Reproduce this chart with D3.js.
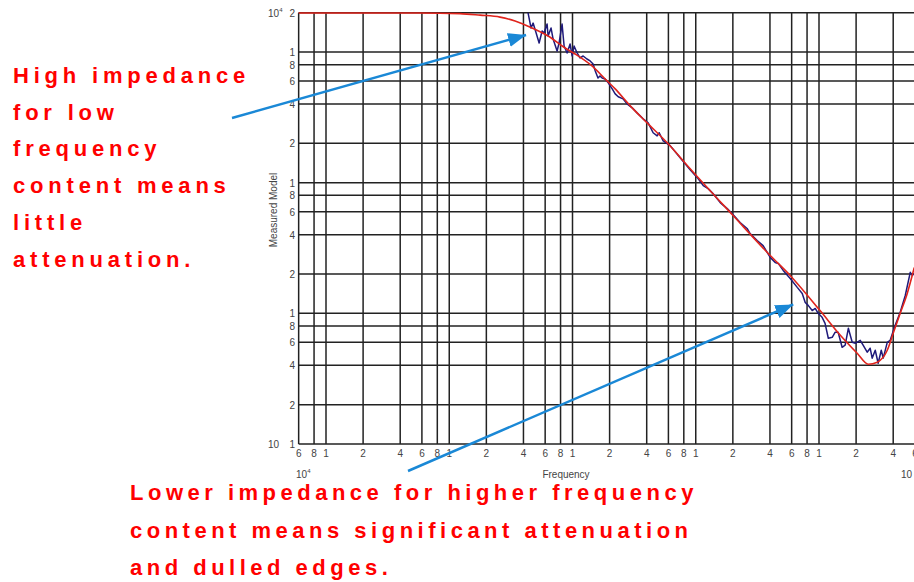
<!DOCTYPE html>
<html><head><meta charset="utf-8">
<script src="https://cdn.jsdelivr.net/npm/d3@7"></script>
<style>html,body{margin:0;padding:0;background:#fff;overflow:hidden}</style>
</head><body><svg id="c" width="914" height="582"></svg>
<script>
// ---- data ----
const tickMantissas = [1, 2, 4, 6, 8];
const xDecades = [1e3, 1e4, 1e5, 1e6, 1e7, 1e8];
const yDecades = [10, 100, 1000, 10000];
const xMin = 6e3, xMax = 6e8, yMin = 10, yMax = 2e4;

const modelFreq = [6.0e3, 5.8e4, 1.22e5, 1.78e5, 2.58e5, 3.42e5, 4.70e5, 6.34e5, 8.71e5, 1.05e6, 1.44e6, 1.84e6, 2.22e6, 2.94e6, 4.03e6, 5.97e6, 9.01e6, 2.01e7, 4.02e7, 5.83e7, 1.02e8, 1.49e8, 2.04e8, 2.51e8, 2.97e8, 3.58e8, 4.00e8, 4.56e8, 5.20e8, 5.93e8];
const modelZ = [19900, 19900, 19680, 19150, 18500, 17260, 15250, 13250, 10730, 9660, 7820, 6220, 5220, 3870, 2870, 1985, 1279, 560, 277, 195, 105, 67.9, 49.5, 40.8, 42.3, 52.2, 70.3, 100, 142, 224];

const measFreq = [4.36e5,4.61e5,4.79e5,5.07e5,5.36e5,5.67e5,5.88e5,6.22e5,6.34e5,6.70e5,6.96e5,7.50e5,7.78e5,8.23e5,8.55e5,9.04e5,9.56e5,9.93e5,1.03e6,1.09e6,1.15e6,1.22e6,1.31e6,1.39e6,1.47e6,1.53e6,1.61e6,1.67e6,1.74e6,1.84e6,1.95e6,2.10e6,2.22e6,2.35e6,2.57e6,2.77e6,3.05e6,3.34e6,3.74e6,4.11e6,4.51e6,4.86e6,5.05e6,5.44e6,6.20e6,7.47e6,9.01e6,1.03e7,1.15e7,1.26e7,1.38e7,1.58e7,1.80e7,1.97e7,2.29e7,2.61e7,2.76e7,3.15e7,3.52e7,4.02e7,4.41e7,4.67e7,5.12e7,5.84e7,6.66e7,7.31e7,7.73e7,8.17e7,8.81e7,9.32e7,9.85e7,1.06e8,1.12e8,1.19e8,1.28e8,1.35e8,1.43e8,1.54e8,1.63e8,1.73e8,1.86e8,1.97e8,2.16e8,2.28e8,2.46e8,2.60e8,2.70e8,2.86e8,3.02e8,3.20e8,3.32e8,3.58e8,3.78e8,4.15e8,4.56e8,5.01e8,5.50e8,5.71e8,5.93e8];
const measZ = [19900,15250,16650,13970,11720,14470,13970,16360,13250,15250,12570,10180,11720,16360,11110,9830,11510,9320,11110,9830,9000,9320,8840,8540,8100,7160,6330,6560,6330,6220,5800,5220,4780,4540,4380,4010,3740,3420,3080,2870,2410,2280,2410,2090,1920,1550,1257,1092,949,900,825,704,633,580,495,446,408,361,330,268,245,241,213,185,158,142,121,115,105,109,100,93.2,83.9,64.5,65.6,71.6,71.6,55.0,57.0,76.8,60.0,59.0,62.2,57.0,50.4,54.1,45.4,52.2,41.5,52.2,45.4,60.0,62.2,81.0,102,137,206,195,202];

const axisTitleX = "Frequency";
const axisTitleY = "Measured Model";
const noteLeft = ["High impedance", "for low", "frequency", "content means", "little", "attenuation."];
const noteBottom = ["Lower impedance for higher frequency", "content means significant attenuation", "and dulled edges."];
const arrowTip1 = {f: 4.2e5, z: 13490};
const arrowTip2 = {f: 6.18e7, z: 117};

// ---- drawing ----
const svg = d3.select("#c");
const x = d3.scaleLog().domain([1e4, 1e8]).range([326, 819]);
const y = d3.scaleLog().domain([10, 1e4]).range([444, 52]);

const xt = [], yt = [];
xDecades.forEach(d => tickMantissas.forEach(m => { const v = m * d; if (v >= xMin - 1 && v <= xMax + 1) xt.push({v, m}); }));
yDecades.forEach(d => tickMantissas.forEach(m => { const v = m * d; if (v >= yMin - 0.01 && v <= yMax + 1) yt.push({v, m}); }));

const grid = svg.append("g").attr("stroke", "#222").attr("stroke-width", 1.5);
grid.selectAll("line.v").data(xt).join("line").attr("class", "v")
  .attr("x1", d => x(d.v)).attr("x2", d => x(d.v))
  .attr("y1", y(yMax)).attr("y2", y(yMin));
grid.selectAll("line.h").data(yt).join("line").attr("class", "h")
  .attr("x1", x(xMin)).attr("x2", x(xMax))
  .attr("y1", d => y(d.v)).attr("y2", d => y(d.v));

const lab = svg.append("g").attr("font-family", "'Liberation Sans', Arial, sans-serif")
  .attr("font-size", 10).attr("fill", "#444");
lab.selectAll("text.xl").data(xt).join("text").attr("class", "xl")
  .attr("x", d => x(d.v)).attr("y", 457).attr("text-anchor", "middle").text(d => d.m);
lab.selectAll("text.yl").data(yt).join("text").attr("class", "yl")
  .attr("x", 295).attr("y", d => y(d.v) + 4).attr("text-anchor", "end").text(d => d.m);

const t1 = lab.append("text").attr("x", 268).attr("y", y(yMax) + 4);
t1.append("tspan").text("10");
t1.append("tspan").attr("dy", -5).attr("font-size", 6).text("4");
lab.append("text").attr("x", 268).attr("y", y(yMin) + 4).text("10");
const t2 = lab.append("text").attr("x", 296).attr("y", 478);
t2.append("tspan").text("10");
t2.append("tspan").attr("dy", -5).attr("font-size", 6).text("4");
lab.append("text").attr("x", 901).attr("y", 478).text("10");
lab.append("text").attr("x", 566).attr("y", 478).attr("text-anchor", "middle").text(axisTitleX);
lab.append("text").attr("transform", "translate(277,210) rotate(-90)").attr("text-anchor", "middle").text(axisTitleY);

const line = d3.line().x(d => x(d[0])).y(d => y(d[1]));
svg.append("path").datum(measFreq.map((f, i) => [f, measZ[i]]))
  .attr("fill", "none").attr("stroke", "#1f1a7a").attr("stroke-width", 1.5)
  .attr("stroke-linejoin", "round").attr("d", line);
svg.append("path").datum(modelFreq.map((f, i) => [f, modelZ[i]]))
  .attr("fill", "none").attr("stroke", "#e0241c").attr("stroke-width", 1.6)
  .attr("d", line.curve(d3.curveMonotoneX));

// arrows
const defs = svg.append("defs");
defs.append("marker").attr("id", "ah").attr("markerUnits", "userSpaceOnUse")
  .attr("markerWidth", 20).attr("markerHeight", 16).attr("refX", 18).attr("refY", 7)
  .attr("orient", "auto").append("path").attr("d", "M0,0L18,7L0,14Z").attr("fill", "#1a88d6");
const arrows = [
  {x1: 232, y1: 118, x2: x(arrowTip1.f), y2: y(arrowTip1.z)},
  {x1: 408, y1: 471, x2: x(arrowTip2.f), y2: y(arrowTip2.z)}
];
svg.selectAll("line.arr").data(arrows).join("line").attr("class", "arr")
  .attr("x1", d => d.x1).attr("y1", d => d.y1).attr("x2", d => d.x2).attr("y2", d => d.y2)
  .attr("stroke", "#1a88d6").attr("stroke-width", 2.5).attr("marker-end", "url(#ah)");

// annotations
const note = svg.append("g").attr("font-family", "'Liberation Sans', Arial, sans-serif")
  .attr("font-size", 22).attr("font-weight", "bold").attr("fill", "#ff0000");
note.selectAll("text.nl").data(noteLeft).join("text").attr("class", "nl")
  .attr("letter-spacing", 4.8)
  .attr("x", 13).attr("y", (d, i) => 83 + i * 36.7).text(d => d);
note.selectAll("text.nb").data(noteBottom).join("text").attr("class", "nb")
  .attr("letter-spacing", 4.5)
  .attr("x", 130).attr("y", (d, i) => 500 + i * 37.5).text(d => d);
</script></body></html>
